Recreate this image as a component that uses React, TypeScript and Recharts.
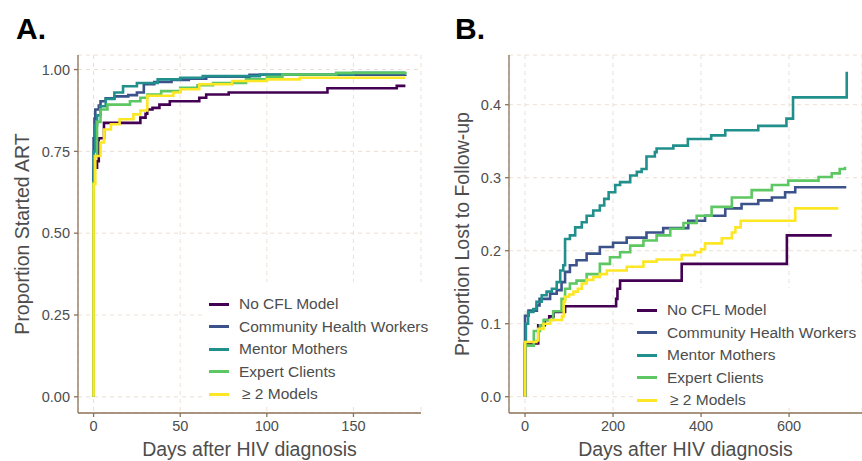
import React from 'react';
import { LineChart, Line, XAxis, YAxis, CartesianGrid, Legend } from 'recharts';

type Pt = [number, number];

// ---- Panel A: proportion started ART (days after diagnosis, proportion)
const artNoCfl: Pt[] = [[0,0],[0,0.70],[2,0.72],[3,0.79],[6,0.837],[27,0.853],[30,0.865],[31,0.878],[34,0.883],[38,0.893],[44,0.903],[61,0.914],[65,0.924],[78,0.93],[135,0.943],[175,0.95],[180,0.95]];
const artChw: Pt[] = [[0,0],[0,0.79],[0.5,0.85],[1,0.878],[3,0.89],[4,0.903],[7,0.912],[12,0.918],[20,0.922],[25,0.93],[29,0.955],[35,0.962],[45,0.968],[55,0.972],[65,0.978],[90,0.984],[180,0.985]];
const artMentor: Pt[] = [[0,0],[0,0.75],[1,0.83],[2,0.86],[4,0.888],[7,0.91],[12,0.93],[17,0.949],[25,0.959],[37,0.97],[50,0.975],[63,0.98],[96,0.985],[150,0.99],[180,0.99]];
const artExpert: Pt[] = [[0,0],[0,0.655],[0.5,0.736],[2,0.84],[4,0.878],[8,0.893],[21,0.903],[27,0.914],[31,0.924],[39,0.934],[50,0.944],[60,0.952],[69,0.959],[88,0.97],[100,0.978],[109,0.985],[140,0.99],[180,0.993]];
const artMulti: Pt[] = [[0,0],[0,0.65],[1,0.736],[4,0.777],[6,0.817],[10,0.833],[15,0.848],[23,0.863],[27,0.875],[31,0.92],[46,0.93],[50,0.94],[61,0.955],[80,0.965],[100,0.97],[119,0.975],[180,0.975]];

// ---- Panel B: proportion lost to follow-up
const ltfNoCfl: Pt[] = [[0,0],[0,0.073],[30,0.073],[30,0.098],[45,0.105],[55,0.11],[65,0.116],[91,0.124],[205,0.124],[207,0.134],[210,0.148],[216,0.159],[356,0.182],[595,0.221],[697,0.221]];
const ltfChw: Pt[] = [[0,0],[0,0.111],[8,0.118],[27,0.125],[33,0.134],[57,0.141],[72,0.146],[83,0.157],[91,0.171],[102,0.18],[117,0.187],[140,0.196],[170,0.205],[200,0.211],[231,0.218],[276,0.225],[314,0.231],[371,0.241],[409,0.248],[455,0.258],[492,0.264],[530,0.269],[561,0.273],[591,0.28],[614,0.287],[730,0.287]];
const ltfMentor: Pt[] = [[0,0],[0,0.07],[2,0.1],[7,0.116],[19,0.12],[26,0.13],[38,0.139],[49,0.144],[61,0.148],[72,0.157],[80,0.173],[87,0.18],[91,0.216],[102,0.221],[114,0.232],[129,0.239],[140,0.248],[155,0.255],[170,0.262],[180,0.271],[190,0.28],[205,0.29],[216,0.294],[239,0.303],[254,0.308],[265,0.312],[276,0.329],[295,0.335],[299,0.34],[337,0.344],[370,0.353],[423,0.358],[455,0.365],[530,0.371],[594,0.381],[609,0.41],[731,0.445]];
const ltfExpert: Pt[] = [[0,0],[0,0.07],[20,0.09],[34,0.098],[42,0.105],[64,0.117],[83,0.134],[91,0.148],[102,0.155],[117,0.159],[140,0.168],[170,0.182],[193,0.191],[216,0.198],[239,0.207],[269,0.214],[299,0.221],[330,0.23],[360,0.238],[390,0.248],[424,0.26],[470,0.273],[515,0.283],[561,0.29],[598,0.296],[667,0.301],[697,0.306],[715,0.312],[727,0.315]];
const ltfMulti: Pt[] = [[0,0],[0,0.075],[26,0.077],[30,0.093],[42,0.1],[57,0.105],[84,0.11],[88,0.13],[91,0.137],[100,0.14],[110,0.144],[120,0.148],[129,0.155],[140,0.16],[155,0.164],[170,0.168],[186,0.173],[231,0.178],[269,0.185],[299,0.188],[356,0.194],[386,0.198],[400,0.202],[409,0.21],[447,0.217],[470,0.225],[478,0.232],[490,0.241],[614,0.258],[712,0.258]];

const groupNames = ['No CFL Model', 'Community Health Workers', 'Mentor Mothers', 'Expert Clients', '\u2265 2 Models'];
const groupColors = ['#440154', '#3B528B', '#21908C', '#5DC863', '#FDE725'];
const ticksA = [0, 50, 100, 150];
const ticksAY = [0, 0.25, 0.5, 0.75, 1];
const ticksB = [0, 200, 400, 600];
const ticksBY = [0, 0.1, 0.2, 0.3, 0.4];

const seriesA = [artNoCfl, artChw, artMentor, artExpert, artMulti];
const seriesB = [ltfNoCfl, ltfChw, ltfMentor, ltfExpert, ltfMulti];

const FONT = '"Liberation Sans", Arial, Helvetica, sans-serif';
const TEXT = '#4d4d4d';
const AXIS = '#8b735a';
const GRID = '#ecdfd4';

const toRows = (s: Pt[]) => s.map(([x, y]) => ({ x, y }));

function LegendBox({ rowTop, height }: { rowTop: number; height: number }) {
  return (
    <div style={{ background: '#fff', width: 232, height, position: 'relative', fontFamily: FONT }}>
      {groupNames.map((n, i) => (
        <div key={n} style={{ position: 'absolute', left: 0, top: rowTop + i * 22.6 - 11, height: 22, display: 'flex', alignItems: 'center' }}>
          <div style={{ marginLeft: 4, width: 20, height: 3, background: groupColors[i] }} />
          <span style={{ marginLeft: i === 4 ? 13 : 10, fontSize: 15.5, color: TEXT, whiteSpace: 'nowrap' }}>
            {i === 4 ? '\u2265\u00A02 Models' : n}
          </span>
        </div>
      ))}
    </div>
  );
}

interface PanelProps {
  series: Pt[][];
  xDomain: [number, number];
  yDomain: [number, number];
  xTicks: number[];
  yTicks: number[];
  yFmt: (v: number) => string;
  width: number;
  yAxisWidth: number;
  marginRight: number;
  yTitle: string;
  yTitleX: number;
  legendLeft: number;
  legendTop: number;
  legendHeight: number;
}

function Panel(p: PanelProps) {
  const plotLeft = p.yAxisWidth;
  const plotRight = p.width - p.marginRight;
  const cx = (plotLeft + plotRight) / 2;
  return (
    <LineChart width={p.width} height={461} margin={{ top: 55, right: p.marginRight, bottom: 0, left: 0 }} style={{ fontFamily: FONT }}>
      <CartesianGrid strokeDasharray="4 4" stroke={GRID} strokeWidth={1} />
      <XAxis
        type="number"
        dataKey="x"
        domain={p.xDomain}
        ticks={p.xTicks}
        allowDataOverflow
        height={48}
        tickSize={4}
        tickMargin={4}
        axisLine={{ stroke: AXIS, strokeWidth: 1.3 }}
        tickLine={{ stroke: AXIS, strokeWidth: 1.3 }}
        tick={{ fill: TEXT, fontSize: 14.5, fontFamily: FONT }}
        label={() => (
          <text x={cx} y={456} textAnchor="middle" fill={TEXT} fontSize={19.5} fontFamily={FONT}>
            Days after HIV diagnosis
          </text>
        )}
      />
      <YAxis
        type="number"
        dataKey="y"
        domain={p.yDomain}
        ticks={p.yTicks}
        allowDataOverflow
        width={p.yAxisWidth}
        tickSize={4}
        tickMargin={4}
        tickFormatter={p.yFmt}
        axisLine={{ stroke: AXIS, strokeWidth: 1.3 }}
        tickLine={{ stroke: AXIS, strokeWidth: 1.3 }}
        tick={{ fill: TEXT, fontSize: 14.5, fontFamily: FONT }}
        label={() => (
          <text x={p.yTitleX} y={234} transform={`rotate(-90 ${p.yTitleX} 234)`} textAnchor="middle" dominantBaseline="central" fill={TEXT} fontSize={19.5} fontFamily={FONT}>
            {p.yTitle}
          </text>
        )}
      />
      <Legend
        layout="horizontal"
        verticalAlign="middle"
        align="center"
        wrapperStyle={{ position: 'absolute', left: p.legendLeft, top: p.legendTop, width: 232, height: p.legendHeight, margin: 0, padding: 0 }}
        content={() => <LegendBox rowTop={22} height={p.legendHeight} />}
      />
      {p.series.map((s, i) => (
        <Line
          key={groupNames[i]}
          data={toRows(s)}
          dataKey="y"
          name={groupNames[i]}
          type="stepAfter"
          stroke={groupColors[i]}
          strokeWidth={2.6}
          dot={false}
          activeDot={false}
          isAnimationActive={false}
        />
      ))}
    </LineChart>
  );
}

export default function App() {
  return (
    <div style={{ position: 'fixed', left: 0, top: 0, width: 862, height: 461, background: '#fff', overflow: 'hidden', fontFamily: FONT }}>
      <div style={{ position: 'absolute', left: 16, top: 14, fontSize: 30, fontWeight: 'bold', lineHeight: '30px', color: '#000' }}>A.</div>
      <div style={{ position: 'absolute', left: 455, top: 14, fontSize: 30, fontWeight: 'bold', lineHeight: '30px', color: '#000' }}>B.</div>
      <div style={{ position: 'absolute', left: 0, top: 0 }}>
        <Panel
          series={seriesA}
          xDomain={[-9, 189]}
          yDomain={[-0.0495, 1.0445]}
          xTicks={ticksA}
          yTicks={ticksAY}
          yFmt={(v) => v.toFixed(2)}
          width={430}
          yAxisWidth={78}
          marginRight={9}
          yTitle="Proportion Started ART"
          yTitleX={22}
          legendLeft={205}
          legendTop={282}
          legendHeight={124}
        />
      </div>
      <div style={{ position: 'absolute', left: 430, top: 0 }}>
        <Panel
          series={seriesB}
          xDomain={[-36.4, 765.7]}
          yDomain={[-0.0223, 0.4681]}
          xTicks={ticksB}
          yTicks={ticksBY}
          yFmt={(v) => v.toFixed(1)}
          width={432}
          yAxisWidth={79}
          marginRight={0}
          yTitle="Proportion Lost to Follow-up"
          yTitleX={32}
          legendLeft={203}
          legendTop={288}
          legendHeight={120}
        />
      </div>
    </div>
  );
}
